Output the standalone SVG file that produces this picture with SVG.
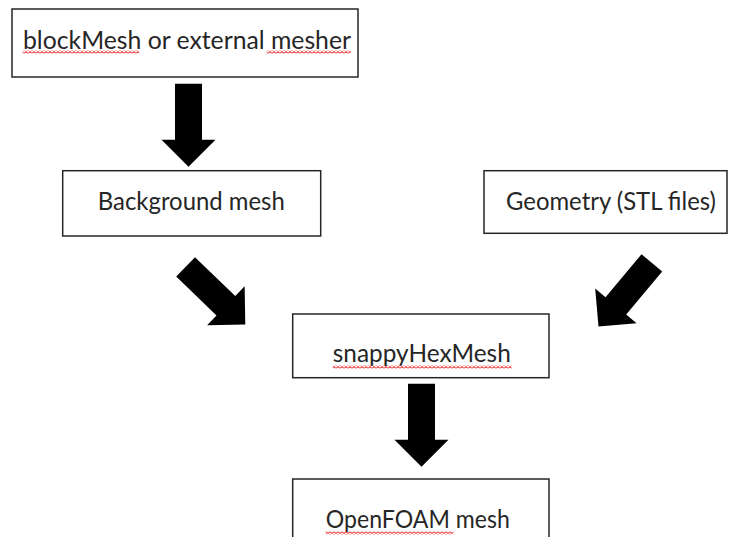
<svg xmlns="http://www.w3.org/2000/svg" width="729" height="537" viewBox="0 0 729 537">
  <style>
    .box { fill: #ffffff; stroke: #262626; stroke-width: 1.5; }
    .lbl { font-family: Lato, "Open Sans", "Liberation Sans", sans-serif; font-size: 25px; fill: #262626; text-anchor: middle; }
    .arrow { fill: #000000; }
    .squig { fill: url(#squiggle); }
  </style>
  <defs>
    <pattern id="squiggle" patternUnits="userSpaceOnUse" width="4" height="3">
      <path d="M0 2.5 L2 0.5 L4 2.5" fill="none" stroke="#ec4b4b" stroke-width="1.1"/>
    </pattern>
    <path id="blockArrow" d="M -13.5 -83 H 13.5 V -27 H 27 L 0 0 L -27 -27 H -13.5 Z"/>
  </defs>
  <rect width="729" height="537" fill="#ffffff"/>

  <g id="connectors" class="arrow">
    <use href="#blockArrow" transform="translate(188.5,166.7)"/>
    <use href="#blockArrow" transform="translate(245.3,324.5) rotate(-46)"/>
    <use href="#blockArrow" transform="translate(598.5,326.5) rotate(40)"/>
    <use href="#blockArrow" transform="translate(421.5,466.7)"/>
  </g>

  <g id="node-blockmesh">
    <rect class="box" x="12" y="9" width="346" height="68"/>
    <text class="lbl" x="187" y="48.5" textLength="328" lengthAdjust="spacingAndGlyphs">blockMesh or external mesher</text>
    <rect class="squig" x="22.7" y="50.5" width="116.6" height="3"/>
    <rect class="squig" x="266.7" y="50.5" width="84" height="3"/>
  </g>

  <g id="node-background">
    <rect class="box" x="62.7" y="170.7" width="258" height="65.3"/>
    <text class="lbl" x="191.3" y="210" textLength="187" lengthAdjust="spacingAndGlyphs">Background mesh</text>
  </g>

  <g id="node-geometry">
    <rect class="box" x="484" y="170.7" width="243" height="62.6"/>
    <text class="lbl" x="611" y="210" textLength="210" lengthAdjust="spacingAndGlyphs">Geometry (STL files)</text>
  </g>

  <g id="node-snappy">
    <rect class="box" x="292.7" y="314" width="256.3" height="63.7"/>
    <text class="lbl" x="421.8" y="361.7" textLength="178" lengthAdjust="spacingAndGlyphs">snappyHexMesh</text>
    <rect class="squig" x="332.7" y="365.5" width="179" height="3"/>
  </g>

  <g id="node-openfoam">
    <rect class="box" x="292.7" y="479" width="256.3" height="80"/>
    <text class="lbl" x="417.8" y="527.7" textLength="184" lengthAdjust="spacingAndGlyphs">OpenFOAM mesh</text>
    <rect class="squig" x="325.7" y="531.5" width="127.6" height="3"/>
  </g>
</svg>
